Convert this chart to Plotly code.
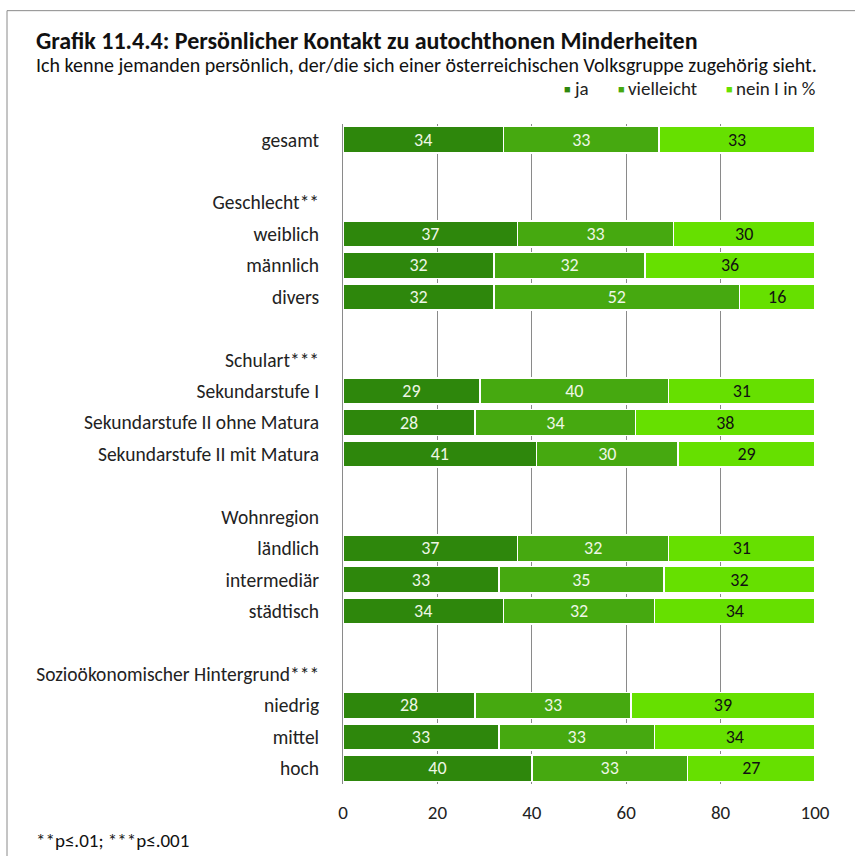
import plotly.graph_objects as go

labels = ["gesamt", "", "Geschlecht**", "weiblich", "männlich", "divers", "",
          "Schulart***", "Sekundarstufe I", "Sekundarstufe II ohne Matura",
          "Sekundarstufe II mit Matura", "", "Wohnregion", "ländlich",
          "intermediär", "städtisch", "", "Sozioökonomischer Hintergrund***",
          "niedrig", "mittel", "hoch"]
ja = [34, None, None, 37, 32, 32, None, None, 29, 28, 41, None, None,
      37, 33, 34, None, None, 28, 33, 40]
vielleicht = [33, None, None, 33, 32, 52, None, None, 40, 34, 30, None, None,
              32, 35, 32, None, None, 33, 33, 33]
nein = [33, None, None, 30, 36, 16, None, None, 31, 38, 29, None, None,
        31, 32, 34, None, None, 39, 34, 27]
series_names = ["ja", "vielleicht", "nein I in %"]
colors = ["#2e870c", "#46a910", "#66e000"]
text_colors = ["#eef7e6", "#eef7e6", "#111111"]
x_ticks = [0, 20, 40, 60, 80, 100]

W, H = 855, 856
L, R, T, B = 343, 815, 123.5, 784.5
FONT = "Carlito, Lato, 'Open Sans', sans-serif"
LEGEND_X = [562, 616, 724]

def px(x):
    return (x - L) / (R - L)

def py(y):
    return (B - y) / (B - T)

ypos = list(range(len(labels)))
fig = go.Figure()
for name, vals, col, tc in zip(series_names, [ja, vielleicht, nein], colors, text_colors):
    fig.add_trace(go.Bar(
        y=ypos, x=vals, orientation="h", name=name, showlegend=False,
        marker=dict(color=col, line=dict(color="white", width=1.5)),
        text=vals, texttemplate="%{x}", textposition="inside",
        insidetextanchor="middle", textangle=0, constraintext="none",
        textfont=dict(color=tc, size=18, family=FONT),
        hoverinfo="skip",
    ))

annotations = [
    dict(text="<b>Grafik 11.4.4: Persönlicher Kontakt zu autochthonen Minderheiten</b>",
         xref="paper", yref="paper", x=px(34), y=py(40), xanchor="left", yanchor="middle",
         showarrow=False, font=dict(size=24, color="#111111")),
    dict(text="Ich kenne jemanden persönlich, der/die sich einer österreichischen Volksgruppe zugehörig sieht.",
         xref="paper", yref="paper", x=px(34), y=py(64), xanchor="left", yanchor="middle",
         showarrow=False, font=dict(size=20, color="#111111")),
    dict(text="**p≤.01; ***p≤.001",
         xref="paper", yref="paper", x=px(34), y=py(841), xanchor="left", yanchor="middle",
         showarrow=False, font=dict(size=19, color="#111111")),
]
for name, col, lx in zip(series_names, colors, LEGEND_X):
    annotations.append(dict(text="■", xref="paper", yref="paper", x=px(lx), y=py(89),
                            xanchor="left", yanchor="middle", showarrow=False,
                            font=dict(size=11, color=col)))
    annotations.append(dict(text=name, xref="paper", yref="paper", x=px(lx + 10), y=py(88),
                            xanchor="left", yanchor="middle", showarrow=False,
                            font=dict(size=19, color="#222222")))

fig.update_layout(
    width=W, height=H, barmode="stack", bargap=0.17,
    paper_bgcolor="white", plot_bgcolor="white",
    margin=dict(l=L, r=W - R, t=T, b=H - B, autoexpand=False),
    font=dict(family=FONT, size=19, color="#222222"),
    showlegend=False,
    xaxis=dict(range=[0, 100], tickvals=x_ticks, showgrid=True, gridcolor="#8a8a8a",
               gridwidth=1, zeroline=False, showline=False, ticks="",
               ticklabelstandoff=15, tickfont=dict(size=19, color="#222222")),
    yaxis=dict(tickvals=ypos, ticktext=labels, range=[len(labels) - 0.5, -0.5],
               showgrid=False, zeroline=False, showline=True, linecolor="#8a8a8a",
               linewidth=1, ticks="", ticklabelstandoff=19,
               tickfont=dict(size=19.5, color="#222222")),
    annotations=annotations,
    shapes=[
        dict(type="line", xref="paper", yref="paper", x0=px(7), x1=px(7), y0=py(10), y1=py(860),
             line=dict(color="#8a8a8a", width=1)),
        dict(type="line", xref="paper", yref="paper", x0=px(7), x1=px(860), y0=py(10), y1=py(10),
             line=dict(color="#8a8a8a", width=1)),
    ],
)
fig.write_html("out.html", config={"displayModeBar": False},
               post_script="document.body.style.margin='0px';document.body.style.overflow='hidden';")
